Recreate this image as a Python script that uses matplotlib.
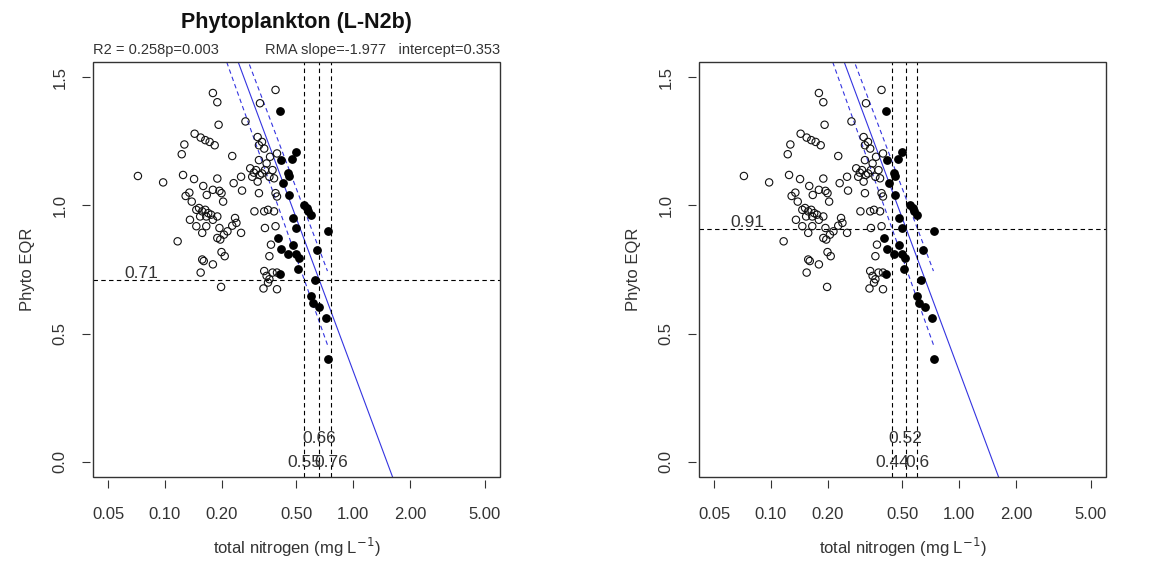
import numpy as np
import matplotlib.pyplot as plt
from matplotlib.patches import Rectangle

plt.rcParams['font.family'] = ['Liberation Sans', 'DejaVu Sans']

# open circles (sites outside the fitted subset)
open_x = [0.072, 0.098, 0.117, 0.125, 0.127, 0.123, 0.144, 0.155, 0.164, 0.173,
          0.184, 0.180, 0.190, 0.193, 0.143, 0.129, 0.135, 0.139, 0.160, 0.167,
          0.180, 0.190, 0.195, 0.200, 0.204, 0.147, 0.152, 0.158, 0.164, 0.170,
          0.176, 0.154, 0.166, 0.136, 0.147, 0.158, 0.166, 0.180, 0.190, 0.195,
          0.190, 0.197, 0.206, 0.215, 0.228, 0.236, 0.240, 0.254, 0.158, 0.161,
          0.180, 0.200, 0.208, 0.155, 0.199, 0.228, 0.232, 0.254, 0.257, 0.268,
          0.284, 0.291, 0.297, 0.305, 0.311, 0.319, 0.328, 0.299, 0.316, 0.320,
          0.311, 0.316, 0.328, 0.337, 0.316, 0.340, 0.347, 0.362, 0.373, 0.380,
          0.359, 0.337, 0.353, 0.380, 0.340, 0.366, 0.359, 0.387, 0.394, 0.387,
          0.394, 0.337, 0.347, 0.359, 0.373, 0.394, 0.334, 0.353, 0.394, 0.387]
open_y = [1.115, 1.090, 0.860, 1.119, 1.238, 1.200, 1.280, 1.265, 1.255, 1.248,
          1.235, 1.439, 1.403, 1.315, 1.103, 1.037, 1.050, 1.015, 1.076, 1.041,
          1.061, 1.105, 1.057, 1.048, 1.015, 0.983, 0.990, 0.977, 0.983, 0.970,
          0.964, 0.957, 0.957, 0.944, 0.919, 0.893, 0.919, 0.944, 0.957, 0.912,
          0.873, 0.867, 0.886, 0.899, 0.921, 0.951, 0.932, 0.893, 0.789, 0.783,
          0.770, 0.818, 0.802, 0.738, 0.682, 1.193, 1.087, 1.112, 1.058, 1.328,
          1.145, 1.112, 1.128, 1.138, 1.093, 1.119, 1.125, 0.977, 1.048, 1.399,
          1.267, 1.235, 1.248, 1.222, 1.177, 1.138, 1.164, 1.190, 1.138, 1.106,
          1.112, 0.977, 0.983, 0.977, 0.912, 0.847, 0.802, 1.048, 1.035, 1.451,
          1.203, 0.744, 0.725, 0.712, 0.738, 0.738, 0.676, 0.699, 0.673, 0.919]

# filled circles (sites used in the regression)
filled_x = [0.411, 0.496, 0.473, 0.416, 0.448, 0.456, 0.424, 0.456, 0.547, 0.568,
            0.578, 0.600, 0.496, 0.482, 0.401, 0.416, 0.448, 0.482, 0.499, 0.518,
            0.509, 0.411, 0.641, 0.733, 0.626, 0.600, 0.611, 0.657, 0.715, 0.733]
filled_y = [1.367, 1.209, 1.180, 1.177, 1.125, 1.115, 1.089, 1.041, 1.003, 0.990,
            0.977, 0.964, 0.912, 0.951, 0.873, 0.831, 0.809, 0.847, 0.811, 0.796,
            0.751, 0.731, 0.828, 0.899, 0.708, 0.647, 0.621, 0.602, 0.559, 0.399]

# RMA fit, y = a + b*log10(x), and its confidence lines
rma_slope = -1.977
rma_intercept = 0.353
ci_lo = (0.174, -2.064)
ci_hi = (0.478, -1.946)

# boundaries for the two panels
eqr_levels = [0.71, 0.91]
tn_bounds = [[0.55, 0.66, 0.76], [0.44, 0.52, 0.60]]
tn_labels = [['0.55', '0.66', '0.76'], ['0.44', '0.52', '0.6']]

xticks = [0.05, 0.10, 0.20, 0.50, 1.00, 2.00, 5.00]
yticks = [0.0, 0.5, 1.0, 1.5]

fig = plt.figure(figsize=(11.57, 5.72), dpi=100)
W, H = 1157, 572
boxes = [(93, 62, 407, 415), (699, 62, 407, 415)]
blue = '#3434e0'
txt = '#333333'

for k, (l, t, w, h) in enumerate(boxes):
    ax = fig.add_axes([l / W, (H - t - h) / H, w / W, h / H])
    # R style: ticks sit a little outside the box
    for side in ('left', 'bottom'):
        ax.spines[side].set_position(('outward', 2.5))
    for sp in ax.spines.values():
        sp.set_visible(False)
    ax.add_patch(Rectangle((0, 0), 1, 1, transform=ax.transAxes, fill=False,
                           lw=1.0, edgecolor='#333333', clip_on=False, zorder=4))

    ax.set_xscale('log')
    ax.set_xlim(10 ** -1.381, 10 ** 0.779)
    ax.set_ylim(-0.06, 1.56)

    ax.scatter(open_x, open_y, s=28, facecolors='none', edgecolors='#111111',
               linewidths=0.8, zorder=3)
    ax.scatter(filled_x, filled_y, s=28, color='black', zorder=3)

    xs = np.logspace(-1.381, 0.779, 100)
    ax.plot(xs, rma_intercept + rma_slope * np.log10(xs), color=blue, lw=0.8)
    xc = np.logspace(np.log10(0.2), np.log10(0.73), 50)
    for a, b in (ci_lo, ci_hi):
        ax.plot(xc, a + b * np.log10(xc), color=blue, lw=0.8, ls=(0, (4, 3)))

    lev = eqr_levels[k]
    ax.axhline(lev, color='black', lw=0.8, ls=(0, (4, 3)))
    ax.text(0.075, lev - 0.006, f'{lev:.2f}', fontsize=12.5, ha='center', va='bottom', color=txt)
    for j, (xb, lab) in enumerate(zip(tn_bounds[k], tn_labels[k])):
        ax.axvline(xb, color='black', lw=0.8, ls=(0, (4, 3)))
        ax.text(xb, 0.09 if j == 1 else -0.005, lab, fontsize=12.5, ha='center',
                va='center', color=txt)

    ax.set_xticks(xticks)
    ax.set_xticklabels([f'{v:.2f}' for v in xticks])
    ax.minorticks_off()
    ax.set_yticks(yticks)
    ax.set_yticklabels([f'{v:.1f}' for v in yticks])
    ax.tick_params(direction='out', length=5.8, width=0.8, labelsize=12,
                   colors=txt)
    ax.tick_params(axis='x', pad=13)
    ax.tick_params(axis='y', pad=10, labelrotation=90)
    for lab in ax.get_yticklabels():
        lab.set_va('center')
    ax.set_xlabel('total nitrogen (mg L$^{-1}$)', fontsize=12, labelpad=10, color=txt)
    ax.set_ylabel('Phyto EQR', fontsize=12, labelpad=13, color=txt)

    if k == 0:
        ax.text(0.5, 1.094, 'Phytoplankton (L-N2b)', transform=ax.transAxes,
                fontsize=15.5, fontweight='bold', ha='center', va='center', color='#111111')
        ax.text(0, 1.028, 'R2 = 0.258p=0.003', transform=ax.transAxes,
                fontsize=10.5, ha='left', va='center', color=txt)
        ax.text(1, 1.028, 'RMA slope=-1.977   intercept=0.353', transform=ax.transAxes,
                fontsize=10.5, ha='right', va='center', color=txt)

fig.savefig('out.png', dpi=100)
